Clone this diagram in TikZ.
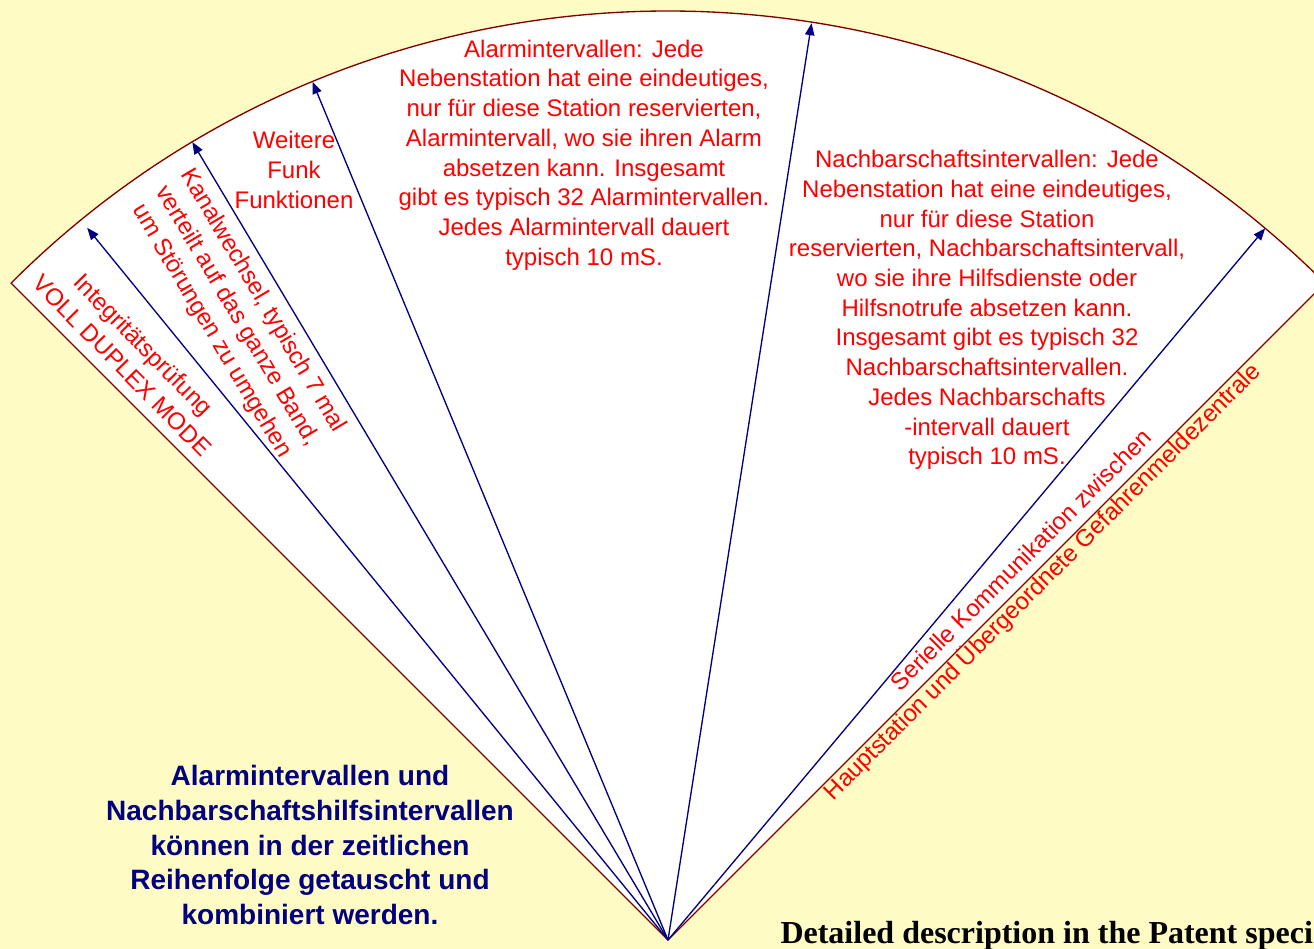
\documentclass[tikz,border=0pt]{standalone}
\usepackage{fontspec}
\setmainfont{Liberation Serif}
\setsansfont{Liberation Sans}
\usetikzlibrary{arrows.meta}

\tikzset{every picture/.style={line width=0.75pt}}
\tikzset{
	redtxt/.style={text={rgb, 255:red, 255; green, 0; blue, 0 }, font=\sffamily\fontsize{18}{22.3}\selectfont, align=center, inner sep=0pt},
	bluetxt/.style={text={rgb, 255:red, 0; green, 0; blue, 128 }, font=\sffamily\bfseries\fontsize{21}{25.9}\selectfont, align=center, inner sep=0pt},
	ray/.style={draw={rgb, 255:red, 0; green, 0; blue, 128 }, line width=1pt, -{Triangle[length=9pt,width=7pt]}},
}

\begin{document}
\begin{tikzpicture}[x=0.75pt,y=0.75pt,yscale=-1,xscale=1]
	\clip (0,0) rectangle (1314,949);
	%Shape: Rectangle [background]
	\fill [fill={rgb, 255:red, 255; green, 251; blue, 196 }] (0,0) rectangle (1314,949);

	\coordinate (apex) at (668,940);
	%Shape: Sector
	\draw [draw={rgb, 255:red, 128; green, 0; blue, 0 }, fill=white, line width=1pt] (apex) -- ++(225:929) arc [start angle=225, end angle=315, radius=929] -- cycle;

	%Straight Lines
	\path (apex) ++(230.8:919) coordinate (tipA);
	\path (apex) ++(239.2:929) coordinate (tipB);
	\path (apex) ++(247.5:929) coordinate (tipC);
	\path (apex) ++(278.9:928) coordinate (tipD);
	\path (apex) ++(310.0:929) coordinate (tipE);
	\draw [ray] (apex) -- (tipA);
	\draw [ray] (apex) -- (tipB);
	\draw [ray] (apex) -- (tipC);
	\draw [ray] (apex) -- (tipD);
	\draw [ray] (apex) -- (tipE);

	% Text Node
	\node [redtxt] (alarm) at (584,155) {Alarmintervallen: Jede\\Nebenstation hat eine eindeutiges,\\nur für diese Station reservierten,\\Alarmintervall, wo sie ihren Alarm\\absetzen kann. Insgesamt\\gibt es typisch 32 Alarmintervallen.\\Jedes Alarmintervall dauert\\typisch 10 mS.};
	% Text Node
	\node [redtxt] (nachbar) at (987,310) {Nachbarschaftsintervallen: Jede\\Nebenstation hat eine eindeutiges,\\nur für diese Station\\reservierten, Nachbarschaftsintervall,\\wo sie ihre Hilfsdienste oder\\Hilfsnotrufe absetzen kann.\\Insgesamt gibt es typisch 32\\Nachbarschaftsintervallen.\\Jedes Nachbarschafts\\-intervall dauert\\typisch 10 mS.};
	% Text Node
	\node [redtxt] (funk) at (294,170) {Weitere\\Funk\\Funktionen};
	% Text Node
	\node [redtxt, rotate=-59.3] (kanal) at (237,316) {Kanalwechsel, typisch 7 mal\\verteilt auf das ganze Band,\\um Störungen zu umgehen};
	% Text Node
	\node [redtxt, rotate=-45.5] (integ) at (133,355) {Integritätsprüfung\\VOLL DUPLEX MODE};
	% Text Node
	\node [redtxt, rotate=45] (seriell) at (1033,572) {Serielle Kommunikation zwischen\\Hauptstation und Übergeordnete Gefahrenmeldezentrale};
	% Text Node
	\node [bluetxt] (swap) at (310,845) {Alarmintervallen und\\Nachbarschaftshilfsintervallen\\können in der zeitlichen\\Reihenfolge getauscht und\\kombiniert werden.};
	% Text Node
	\node [font=\bfseries\fontsize{24}{28}\selectfont, anchor=base west, inner sep=0pt] (patent) at (780,943) {Detailed description in the Patent speci};

\end{tikzpicture}
\end{document}
